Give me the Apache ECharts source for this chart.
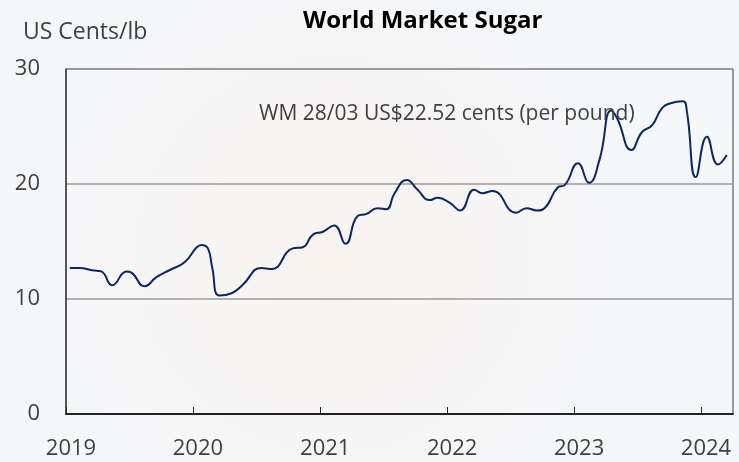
<!DOCTYPE html>
<html>
<head>
<meta charset="utf-8">
<script src="https://cdn.jsdelivr.net/npm/echarts@6/dist/echarts.min.js"></script>
<style>
  html, body { margin: 0; padding: 0; background: #f7f8fa; }
  #main { width: 739px; height: 462px; }
</style>
</head>
<body>
<div id="main"></div>
<script>
// world market sugar price, US cents per lb
var dates = [
  '2019-01-12', '2019-02-10', '2019-03-17', '2019-04-12', '2019-05-14', '2019-06-24',
  '2019-07-08', '2019-08-15', '2019-09-18', '2019-10-25', '2019-12-08',
  '2020-01-12', '2020-01-26', '2020-02-13', '2020-02-25', '2020-03-17', '2020-04-21',
  '2020-05-22', '2020-07-16', '2020-08-14', '2020-10-14', '2020-11-12', '2020-12-11',
  '2021-01-09', '2021-02-10', '2021-03-15', '2021-04-18', '2021-05-14', '2021-06-15',
  '2021-07-10', '2021-08-03', '2021-09-07', '2021-10-08', '2021-11-12', '2021-12-05',
  '2022-01-09', '2022-02-07', '2022-03-20', '2022-04-12', '2022-05-11', '2022-07-19',
  '2022-08-17', '2022-09-16', '2022-10-08', '2022-11-15', '2022-12-05',
  '2023-01-12', '2023-02-13', '2023-03-15', '2023-04-18', '2023-05-05', '2023-06-15',
  '2023-07-15', '2023-08-13', '2023-09-11', '2023-10-03', '2023-11-10', '2023-11-21',
  '2023-12-17', '2024-01-18', '2024-02-19', '2024-03-15'
];
var prices = [
  12.7, 12.7, 12.5, 12.4, 11.2, 12.4,
  12.3, 11.1, 11.9, 12.5, 13.2,
  14.5, 14.7, 14.4, 12.8, 10.3, 10.5,
  11.2, 12.7, 12.6, 14.4, 14.5, 15.6,
  15.85, 16.4, 14.8, 17.2, 17.4, 17.9,
  17.8, 19.2, 20.35, 19.5, 18.6, 18.8,
  18.35, 17.7, 19.5, 19.2, 19.4, 17.5,
  17.9, 17.7, 17.9, 19.7, 19.9,
  21.8, 20.1, 22.1, 26.4, 25.7, 22.96,
  24.5, 25.1, 26.6, 27.0, 27.2, 26.4,
  20.6, 24.1, 21.7, 22.52
];
var yearTicks = ['2019-01-01', '2020-01-01', '2021-01-01', '2022-01-01', '2023-01-01', '2024-01-01'];
var yTicks = [0, 10, 20, 30];
var note = 'WM 28/03 US$22.52 cents (per pound)';

var font = '"Open Sans", sans-serif';
function ts(d) { return +new Date(d + 'T00:00:00Z'); }
var seriesData = dates.map(function (d, i) { return [ts(d), prices[i]]; });
var tickTimes = yearTicks.map(ts);

var chart = echarts.init(document.getElementById('main'));
chart.setOption({
  // faint warm wash like the slide photo behind the chart
  backgroundColor: {
    type: 'radial', x: 0.45, y: 0.55, r: 0.6,
    colorStops: [
      { offset: 0, color: '#f8f3ef' },
      { offset: 1, color: '#f6f7f9' }
    ]
  },
  animation: false,
  textStyle: { fontFamily: font },
  title: [
    {
      text: 'World Market Sugar',
      left: 303, top: 9, padding: 0,
      textStyle: { fontFamily: font, fontWeight: 'bold', fontSize: 24, color: '#000' }
    },
    {
      text: 'US Cents/lb',
      left: 23, top: 21, padding: 0,
      textStyle: { fontFamily: font, fontWeight: 'normal', fontSize: 23, color: '#404040' }
    },
    {
      text: note,
      left: 259, top: 104, padding: 0,
      textStyle: { fontFamily: font, fontWeight: 'normal', fontSize: 21, color: '#404040' }
    }
  ],
  grid: {
    left: 66, right: 6, top: 69, bottom: 48,
    show: true, borderColor: '#404040', borderWidth: 1, backgroundColor: 'transparent'
  },
  xAxis: {
    type: 'value',
    min: ts('2019-01-01'),
    max: ts('2024-04-02'),
    axisLine: { lineStyle: { color: '#222', width: 2 } },
    axisTick: { show: true, inside: true, length: 7, lineStyle: { color: '#222' }, customValues: tickTimes },
    axisLabel: {
      customValues: tickTimes,
      formatter: function (v) { return new Date(v).getUTCFullYear(); },
      fontSize: 22, color: '#404040', margin: 24, fontFamily: font,
      padding: [0, 0, 0, 10]
    },
    splitLine: { show: false }
  },
  yAxis: {
    type: 'value',
    min: yTicks[0], max: yTicks[yTicks.length - 1], interval: 10,
    axisLine: { show: true, lineStyle: { color: '#404040', width: 1.5 } },
    axisTick: { show: false },
    axisLabel: { fontSize: 22, color: '#404040', margin: 26, fontFamily: font },
    splitLine: { lineStyle: { color: '#9a9a9a', width: 1.5 } }
  },
  series: [{
    type: 'line',
    data: seriesData,
    smooth: 0.5,
    showSymbol: false,
    lineStyle: { color: '#0a2867', width: 2 }
  }]
});
</script>
</body>
</html>
